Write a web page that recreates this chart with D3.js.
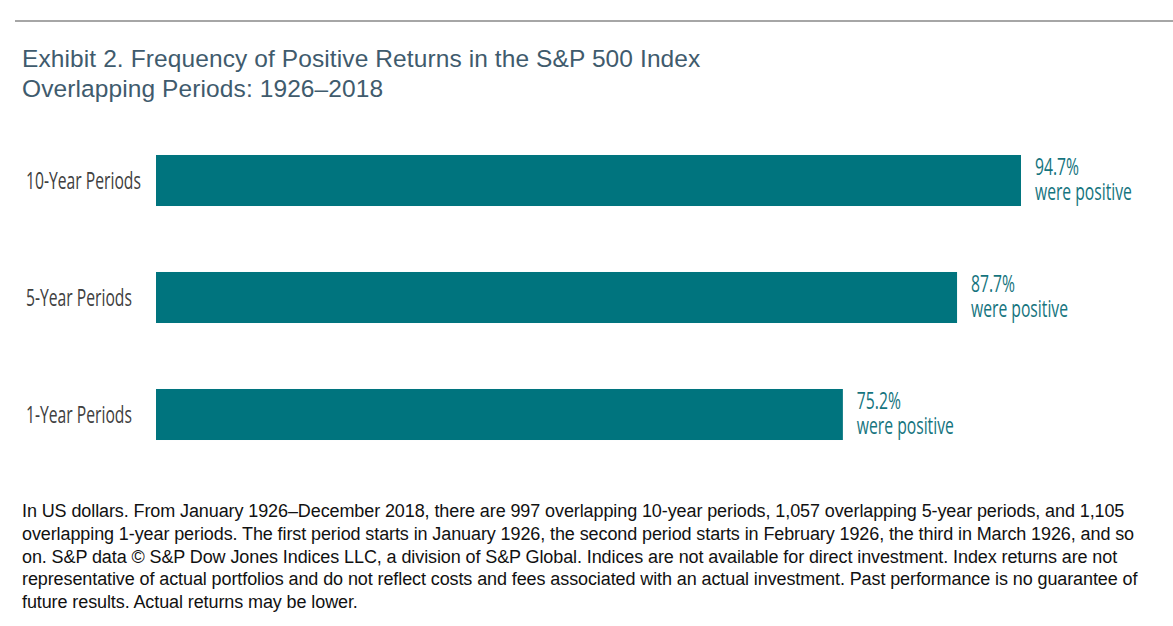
<!DOCTYPE html>
<html>
<head>
<meta charset="utf-8">
<script src="https://cdn.jsdelivr.net/npm/d3@7"></script>
<style>
  body { margin: 0; background: #fff; }
  svg { display: block; }
</style>
</head>
<body>
<svg id="chart"></svg>
<script>
// Chart data
const categories = ["10-Year Periods", "5-Year Periods", "1-Year Periods"];
const positivePct = [94.7, 87.7, 75.2];

const titleLines = [
    "Exhibit 2. Frequency of Positive Returns in the S&P 500 Index",
    "Overlapping Periods: 1926\u20132018"
];

const noteLines = [
    "In US dollars. From January 1926\u2013December 2018, there are 997 overlapping 10-year periods, 1,057 overlapping 5-year periods, and 1,105",
    "overlapping 1-year periods. The first period starts in January 1926, the second period starts in February 1926, the third in March 1926, and so",
    "on. S&P data \u00a9 S&P Dow Jones Indices LLC, a division of S&P Global. Indices are not available for direct investment. Index returns are not",
    "representative of actual portfolios and do not reflect costs and fees associated with an actual investment. Past performance is no guarantee of",
    "future results. Actual returns may be lower."
];

const width = 1173;
const height = 626;
const barColor = "#00747e";
const narrowFont = "'Open Sans', 'Noto Sans', sans-serif";

const svg = d3.select("#chart")
    .attr("width", width)
    .attr("height", height);

// Top rule
svg.append("line")
    .attr("x1", 15).attr("x2", width)
    .attr("y1", 21).attr("y2", 21)
    .attr("stroke", "#a6a6a6")
    .attr("stroke-width", 2);

// Title
svg.selectAll(".title")
    .data(titleLines)
    .enter()
    .append("text")
    .attr("class", "title")
    .attr("x", 22)
    .attr("y", (d, i) => 67 + i * 30)
    .style("font-family", "'Liberation Sans', Arial, sans-serif")
    .style("font-size", "24.5px")
    .style("letter-spacing", "0.1px")
    .style("fill", "#3f5b6d")
    .text(d => d);

// Scales
const data = categories.map((c, i) => ({ label: c, value: positivePct[i] }));

const x = d3.scaleLinear()
    .domain([0, 100])
    .range([156, 1069.4]);

const y = d3.scaleBand()
    .domain(categories)
    .range([122, 473])
    .paddingInner(0.564)
    .paddingOuter(0.282);

// Bars
svg.selectAll(".bar")
    .data(data)
    .enter()
    .append("rect")
    .attr("class", "bar")
    .attr("x", x(0))
    .attr("y", d => y(d.label))
    .attr("width", d => x(d.value) - x(0))
    .attr("height", y.bandwidth())
    .attr("fill", barColor);

// Category labels (left)
const catLabels = svg.selectAll(".cat")
    .data(data)
    .enter()
    .append("text")
    .attr("class", "cat")
    .attr("x", 26)
    .attr("y", d => y(d.label) + y.bandwidth() / 2 + 9)
    .style("font-family", narrowFont)
    .style("font-size", "24px")
    .style("fill", "#404040")
    .text(d => d.label);

// Value labels (right of each bar)
const valueLabel = svg.selectAll(".val")
    .data(data)
    .enter()
    .append("text")
    .attr("class", "val")
    .attr("x", d => x(d.value) + 14)
    .attr("y", d => y(d.label))
    .style("font-family", narrowFont)
    .style("font-size", "24px")
    .style("fill", "#15747e");

valueLabel.append("tspan")
    .attr("x", d => x(d.value) + 14)
    .attr("dy", 20)
    .text(d => `${d.value.toFixed(1)}%`);

valueLabel.append("tspan")
    .attr("x", d => x(d.value) + 14)
    .attr("dy", 25)
    .text("were positive");

// No condensed face is installed, so squeeze the humanist sans horizontally
const natural = catLabels.node().getComputedTextLength();
const squeeze = 115 / natural;
catLabels.attr("transform", `translate(26,0) scale(${squeeze},1) translate(-26,0)`);
valueLabel.attr("transform", d => {
    const x0 = x(d.value) + 14;
    return `translate(${x0},0) scale(${squeeze},1) translate(${-x0},0)`;
});

// Footnote
svg.selectAll(".note")
    .data(noteLines)
    .enter()
    .append("text")
    .attr("class", "note")
    .attr("x", 22)
    .attr("y", (d, i) => 517 + i * 22.8)
    .style("font-family", "'Liberation Sans', Arial, sans-serif")
    .style("font-size", "18px")
    .style("letter-spacing", "-0.1px")
    .style("fill", "#111")
    .text(d => d);
</script>
</body>
</html>
